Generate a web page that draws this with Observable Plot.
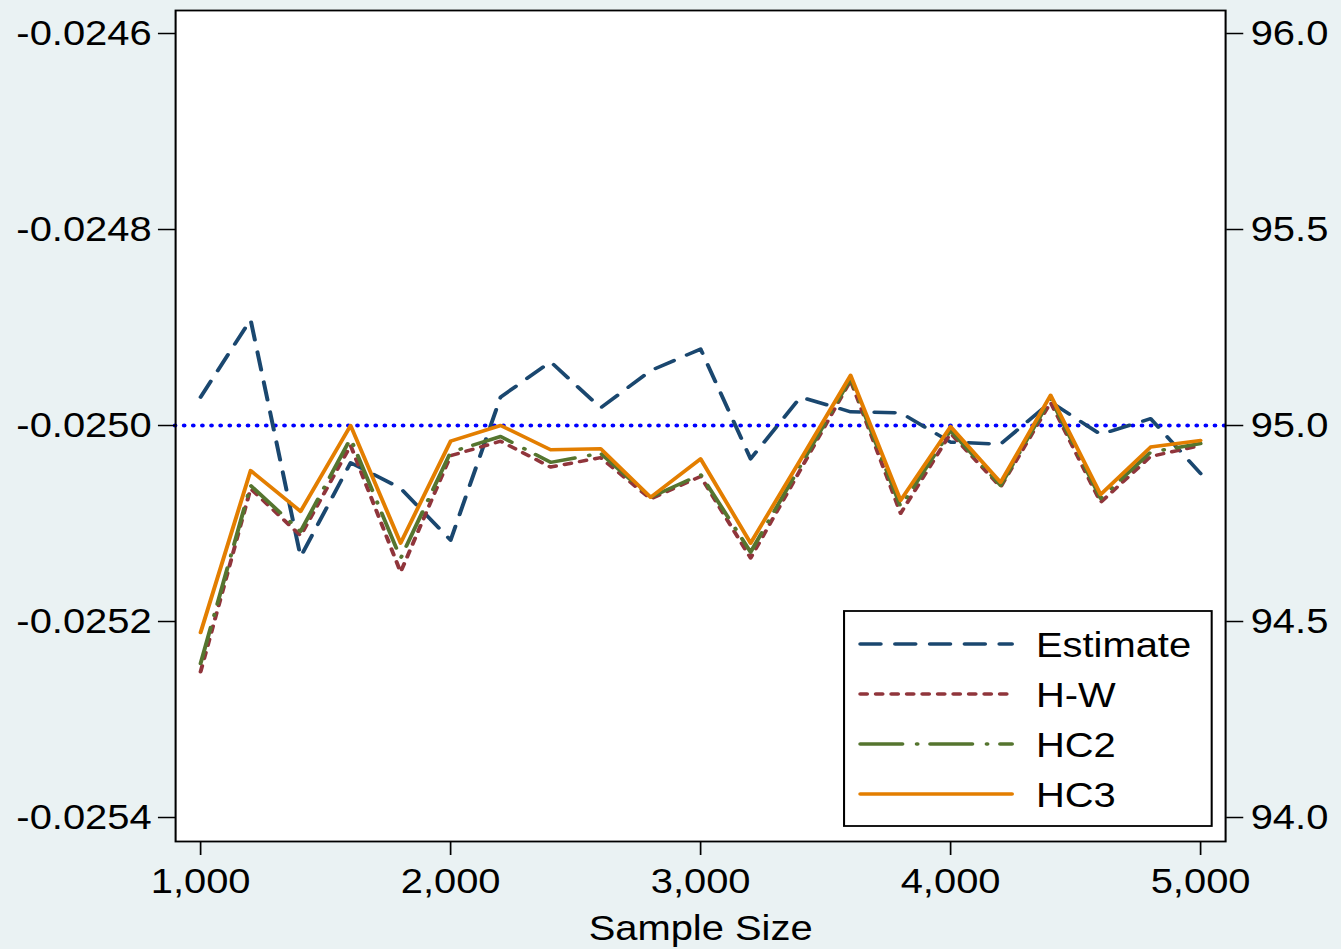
<!DOCTYPE html>
<html><head><meta charset="utf-8">
<script src="https://cdn.jsdelivr.net/npm/d3@7"></script>
<script src="https://cdn.jsdelivr.net/npm/@observablehq/plot@0.6"></script>
<style>
html,body{margin:0;padding:0;background:#eaf2f3;overflow:hidden}
#wrap{position:relative;width:1176px;height:949px;transform:scaleX(1.1403);transform-origin:0 0}
</style></head><body><div id="wrap"></div>
<script>
// ---- data ----
const sampleSizes = [1000,1200,1400,1600,1800,2000,2200,2400,2600,2800,3000,3200,3400,3600,3800,4000,4200,4400,4600,4800,5000];
const estimate = [-0.024971,-0.024892,-0.025134,-0.025038,-0.025064,-0.025117,-0.024971,-0.024935,-0.024982,-0.024944,-0.024922,-0.025034,-0.024971,-0.024986,-0.024987,-0.025017,-0.025019,-0.024976,-0.025009,-0.024993,-0.025049];
const hw  = [94.372,94.839,94.719,94.949,94.626,94.923,94.960,94.894,94.918,94.813,94.870,94.662,94.888,95.115,94.776,94.980,94.843,95.059,94.804,94.921,94.949];
const hc2 = [94.393,94.847,94.730,94.967,94.661,94.932,94.972,94.906,94.929,94.817,94.875,94.677,94.898,95.120,94.793,94.987,94.847,95.069,94.814,94.932,94.954];
const hc3 = [94.472,94.885,94.781,95.000,94.700,94.960,95.000,94.938,94.941,94.817,94.915,94.700,94.913,95.128,94.809,94.997,94.855,95.077,94.824,94.945,94.962];
const seriesNames = ["Estimate","H-W","HC2","HC3"];
const leftTicks = [-0.0254,-0.0252,-0.0250,-0.0248,-0.0246];
const rightTicks = [94.0,94.5,95.0,95.5,96.0];
const xTicks = [1000,2000,3000,4000,5000];
const referenceCoverage = 95.0;
const xLabel = "Sample Size";

// estimate (left axis) mapped onto the coverage (right axis) scale
const toCov = e => 95 + (e + 0.025) * 2500;
const fromCov = v => (v - 95) / 2500 - 0.025;

const seriesValues = {"Estimate": estimate.map(toCov), "H-W": hw, "HC2": hc2, "HC3": hc3};
const rows = [];
seriesNames.forEach(s => sampleSizes.forEach((n, i) => rows.push({n, series: s, v: seriesValues[s][i]})));

const styles = {
  "Estimate": {stroke: "#1a476f", dash: "18,12.5"},
  "H-W":      {stroke: "#90353b", dash: "6,7.6"},
  "HC2":      {stroke: "#55752f", dash: "37,12.5,0.8,11"},
  "HC3":      {stroke: "#e37e00", dash: null}
};

const font = "'Liberation Sans', Arial, sans-serif";

const svg = Plot.plot({
  width: 1176, height: 949,
  marginLeft: 153.5, marginRight: 101.7, marginTop: 10, marginBottom: 108,
  x: {domain: [900, 5100], label: null},
  y: {domain: [93.9388, 96.0587], label: null},
  style: {fontFamily: font, fontSize: "35px", color: "black", background: "#eaf2f3", overflow: "visible"},
  marks: [
    Plot.frame({fill: "white"}),
    Plot.ruleY([referenceCoverage], {stroke: "#0000ff", strokeWidth: 4.2, strokeDasharray: "0,8", strokeLinecap: "round"}),
    ...seriesNames.map(s => Plot.line(rows.filter(r => r.series === s), {
      x: "n", y: "v", stroke: styles[s].stroke, strokeWidth: 3.5,
      strokeDasharray: styles[s].dash, strokeLinecap: "round", strokeLinejoin: "round"
    })),
    Plot.frame({stroke: "black", strokeWidth: 1.8}),
    Plot.axisY({anchor: "left", ticks: leftTicks.map(toCov), tickFormat: v => fromCov(v).toFixed(4),
      tickSize: 15, tickPadding: 6, strokeWidth: 1.5, label: null}),
    Plot.axisY({anchor: "right", ticks: rightTicks, tickFormat: v => v.toFixed(1),
      tickSize: 15, tickPadding: 7, strokeWidth: 1.5, label: null}),
    Plot.axisX({anchor: "bottom", ticks: xTicks, tickFormat: d => d3.format(",")(d),
      tickSize: 14, tickPadding: 13, strokeWidth: 1.5, label: null}),
    Plot.text([xLabel], {frameAnchor: "bottom", dy: 98, fontSize: 35, fill: "black"})
  ]
});

// legend
const g = d3.select(svg).append("g");
g.append("rect").attr("x", 740.2).attr("y", 611).attr("width", 322.4).attr("height", 215)
  .attr("fill", "white").attr("stroke", "black").attr("stroke-width", 1.8);
seriesNames.forEach((s, i) => {
  const y = 644 + 50 * i;
  g.append("line").attr("x1", 754.4).attr("x2", 887.5).attr("y1", y).attr("y2", y)
    .attr("stroke", styles[s].stroke).attr("stroke-width", 3.5)
    .attr("stroke-linecap", "round")
    .attr("stroke-dasharray", styles[s].dash);
  g.append("text").attr("x", 908.5).attr("y", y + 13).attr("fill", "black")
    .attr("text-anchor", "start").attr("font-size", 35).text(s);
});

document.getElementById("wrap").appendChild(svg);
</script></body></html>
